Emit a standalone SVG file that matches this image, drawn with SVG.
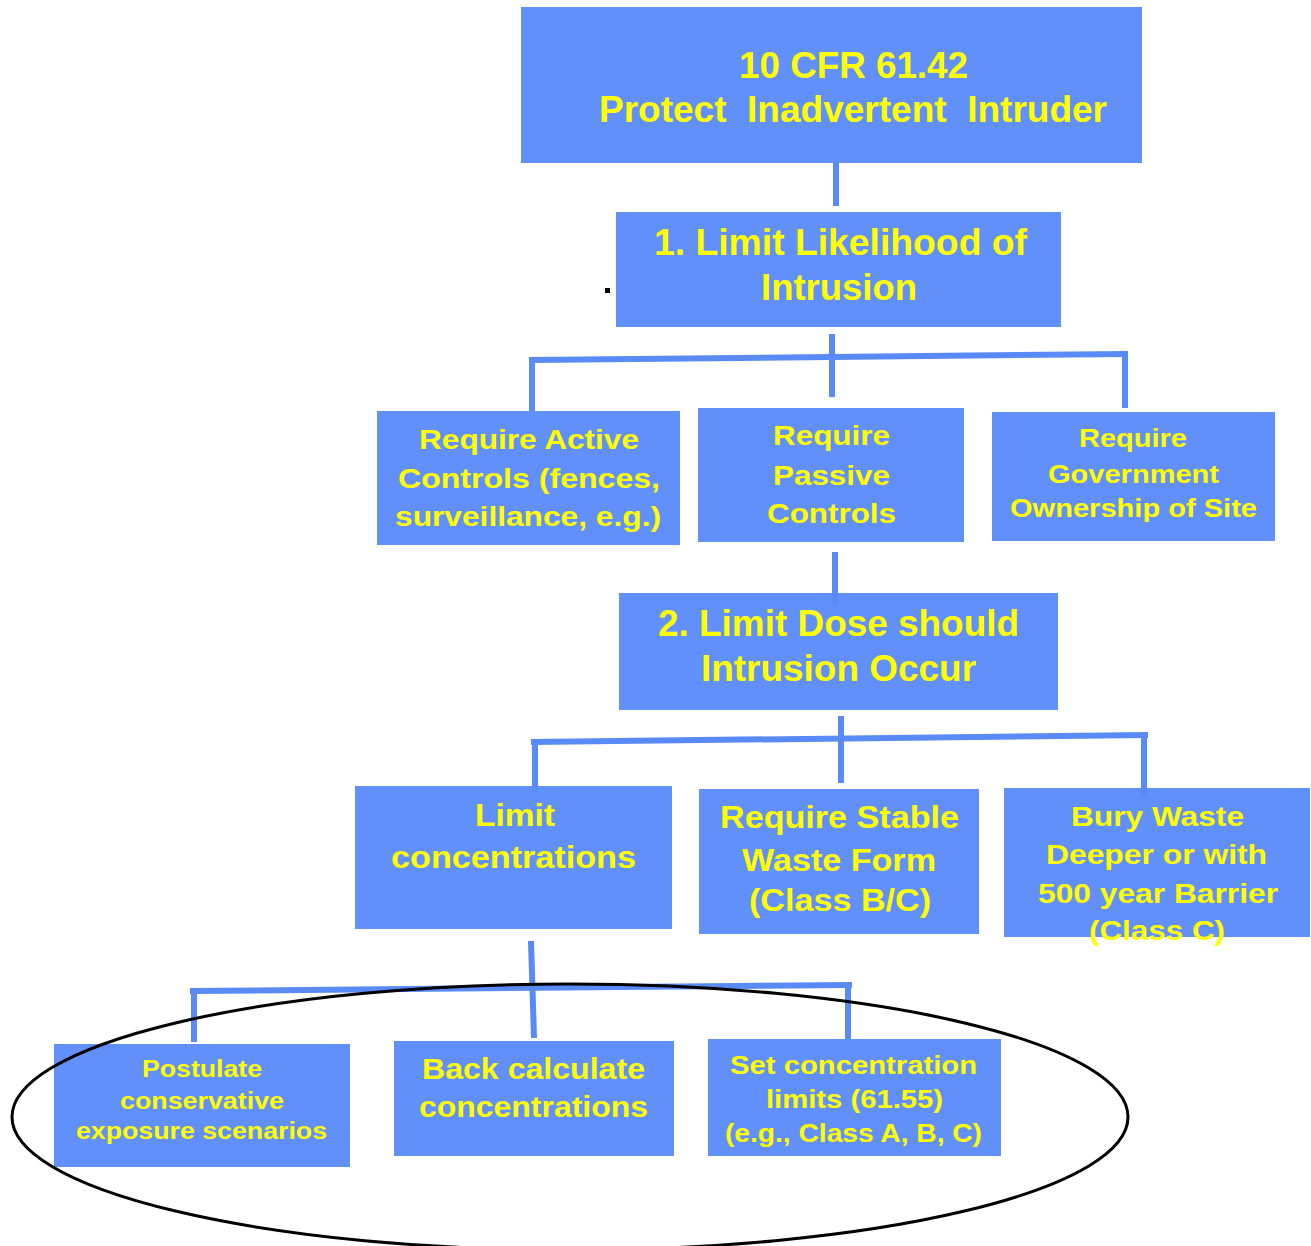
<svg xmlns="http://www.w3.org/2000/svg" width="1311" height="1246" viewBox="0 0 1311 1246">
<style>
.box{fill:#6290FA;}
.t{fill:#FFFF00;font-family:"Liberation Sans",Arial,sans-serif;font-weight:bold;text-anchor:middle;}
.c{stroke:#5A8AF5;stroke-width:6;fill:none;stroke-linecap:butt;}
</style>
<rect width="1311" height="1246" fill="#FFFFFF"/>
<g id="n-top">
<rect class="box" x="521" y="7" width="621" height="156"/>
<text class="t" font-size="36" x="853.5" y="78" textLength="229" lengthAdjust="spacingAndGlyphs">10 CFR 61.42</text>
<text class="t" font-size="36" x="853" y="122" textLength="508" lengthAdjust="spacingAndGlyphs" xml:space="preserve">Protect  Inadvertent  Intruder</text>
</g>
<g id="n-likelihood">
<rect class="box" x="616" y="212" width="445" height="115"/>
<text class="t" font-size="36" x="840.5" y="255" textLength="373" lengthAdjust="spacingAndGlyphs">1. Limit Likelihood of</text>
<text class="t" font-size="36" x="839" y="300" textLength="156" lengthAdjust="spacingAndGlyphs">Intrusion</text>
</g>
<rect id="dot" x="605" y="288" width="5" height="5" fill="#000000"/>
<g id="n-active">
<rect class="box" x="377" y="411" width="303" height="134"/>
<text class="t" font-size="28" x="529" y="449" textLength="220" lengthAdjust="spacingAndGlyphs">Require Active</text>
<text class="t" font-size="28" x="529" y="488" textLength="262" lengthAdjust="spacingAndGlyphs">Controls (fences,</text>
<text class="t" font-size="28" x="528" y="526" textLength="266" lengthAdjust="spacingAndGlyphs">surveillance, e.g.)</text>
</g>
<g id="n-passive">
<rect class="box" x="698" y="408" width="266" height="134"/>
<text class="t" font-size="28" x="831.5" y="445" textLength="117" lengthAdjust="spacingAndGlyphs">Require</text>
<text class="t" font-size="28" x="831.5" y="485" textLength="117" lengthAdjust="spacingAndGlyphs">Passive</text>
<text class="t" font-size="28" x="831.5" y="523" textLength="129" lengthAdjust="spacingAndGlyphs">Controls</text>
</g>
<g id="n-gov">
<rect class="box" x="992" y="412" width="283" height="129"/>
<text class="t" font-size="26" x="1133" y="447" textLength="108" lengthAdjust="spacingAndGlyphs">Require</text>
<text class="t" font-size="26" x="1133.5" y="483" textLength="171" lengthAdjust="spacingAndGlyphs">Government</text>
<text class="t" font-size="26" x="1133.5" y="517" textLength="247" lengthAdjust="spacingAndGlyphs">Ownership of Site</text>
</g>
<g id="n-dose">
<rect class="box" x="619" y="593" width="439" height="117"/>
<text class="t" font-size="36" x="838.5" y="636" textLength="361" lengthAdjust="spacingAndGlyphs">2. Limit Dose should</text>
<text class="t" font-size="36" x="838.5" y="681" textLength="275" lengthAdjust="spacingAndGlyphs">Intrusion Occur</text>
</g>
<g id="n-limitconc">
<rect class="box" x="355" y="786" width="317" height="143"/>
<text class="t" font-size="32" x="515" y="826" textLength="80" lengthAdjust="spacingAndGlyphs">Limit</text>
<text class="t" font-size="32" x="513.5" y="868" textLength="245" lengthAdjust="spacingAndGlyphs">concentrations</text>
</g>
<g id="n-stable">
<rect class="box" x="699" y="789" width="280" height="145"/>
<text class="t" font-size="31" x="839.5" y="828" textLength="239" lengthAdjust="spacingAndGlyphs">Require Stable</text>
<text class="t" font-size="31" x="839" y="871" textLength="194" lengthAdjust="spacingAndGlyphs">Waste Form</text>
<text class="t" font-size="31" x="840" y="911" textLength="182" lengthAdjust="spacingAndGlyphs">(Class B/C)</text>
</g>
<g id="n-bury">
<rect class="box" x="1004" y="788" width="306" height="149"/>
<text class="t" font-size="28" x="1157.5" y="826" textLength="173" lengthAdjust="spacingAndGlyphs">Bury Waste</text>
<text class="t" font-size="28" x="1156.5" y="864" textLength="221" lengthAdjust="spacingAndGlyphs">Deeper or with</text>
<text class="t" font-size="28" x="1158" y="903" textLength="240" lengthAdjust="spacingAndGlyphs">500 year Barrier</text>
<text class="t" font-size="28" x="1157" y="940" textLength="136" lengthAdjust="spacingAndGlyphs">(Class C)</text>
</g>
<g id="n-postulate">
<rect class="box" x="54" y="1044" width="296" height="123"/>
<text class="t" font-size="24" x="202" y="1077" textLength="120" lengthAdjust="spacingAndGlyphs">Postulate</text>
<text class="t" font-size="24" x="202" y="1109" textLength="164" lengthAdjust="spacingAndGlyphs">conservative</text>
<text class="t" font-size="24" x="201.5" y="1139" textLength="251" lengthAdjust="spacingAndGlyphs">exposure scenarios</text>
</g>
<g id="n-back">
<rect class="box" x="394" y="1041" width="280" height="115"/>
<text class="t" font-size="29" x="533.5" y="1079" textLength="223" lengthAdjust="spacingAndGlyphs">Back calculate</text>
<text class="t" font-size="29" x="533.5" y="1117" textLength="229" lengthAdjust="spacingAndGlyphs">concentrations</text>
</g>
<g id="n-set">
<rect class="box" x="708" y="1039" width="293" height="117"/>
<text class="t" font-size="26" x="853.5" y="1074" textLength="247" lengthAdjust="spacingAndGlyphs">Set concentration</text>
<text class="t" font-size="26" x="854.5" y="1108" textLength="177" lengthAdjust="spacingAndGlyphs">limits (61.55)</text>
<text class="t" font-size="26" x="853.5" y="1142" textLength="257" lengthAdjust="spacingAndGlyphs">(e.g., Class A, B, C)</text>
</g>
<g id="connectors">
<path class="c" d="M836 163 V206"/>
<path class="c" d="M832 334 V397"/>
<path class="c" d="M529 360 L1128 354"/>
<path class="c" d="M532 357 V411"/>
<path class="c" d="M1125 351 V408"/>
<path class="c" d="M835 552 V607"/>
<path class="c" d="M841 716 V783"/>
<path class="c" d="M531 742 L1148 735"/>
<path class="c" d="M535 739 V792"/>
<path class="c" d="M1144 732 V798"/>
<path class="c" d="M531 941 L534 1038"/>
<path class="c" d="M190 991 L852 985"/>
<path class="c" d="M194 988 V1042"/>
<path class="c" d="M848 982 V1039"/>
</g>
<ellipse id="ellipse" cx="570" cy="1117" rx="558" ry="133" fill="none" stroke="#000000" stroke-width="3"/>
</svg>
